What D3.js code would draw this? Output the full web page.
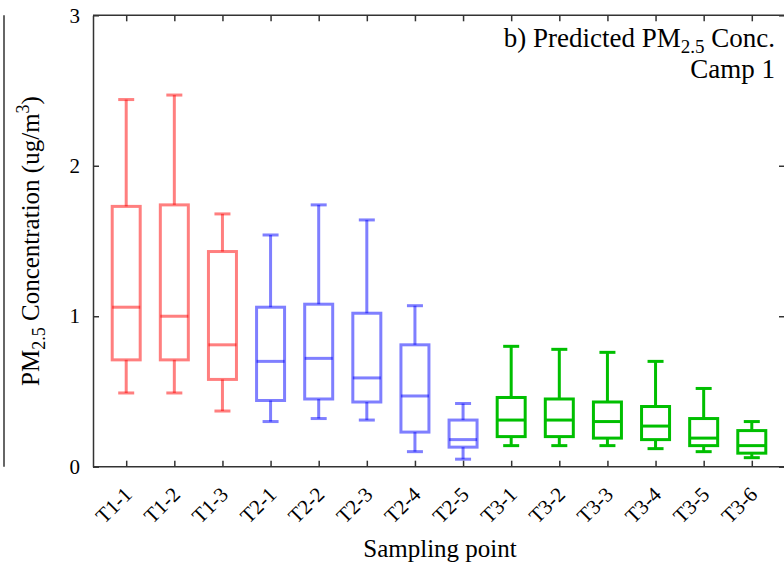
<!DOCTYPE html>
<html>
<head>
<meta charset="utf-8">
<script src="https://cdn.jsdelivr.net/npm/d3@7"></script>
<style>
  html, body { margin: 0; padding: 0; background: #fff; }
  svg { display: block; }
</style>
</head>
<body>
<svg id="chart" width="784" height="568"></svg>
<script>
// Sampling points and their box-plot statistics (ug/m3)
const categories = ["T1-1","T1-2","T1-3","T2-1","T2-2","T2-3","T2-4","T2-5",
                    "T3-1","T3-2","T3-3","T3-4","T3-5","T3-6"];
const groups     = ["T1","T1","T1","T2","T2","T2","T2","T2",
                    "T3","T3","T3","T3","T3","T3"];
const whiskerLow = [0.49, 0.49, 0.37, 0.30, 0.32, 0.31, 0.10, 0.05,
                    0.14, 0.14, 0.14, 0.12, 0.10, 0.06];
const q1         = [0.71, 0.71, 0.58, 0.44, 0.45, 0.43, 0.23, 0.13,
                    0.20, 0.20, 0.19, 0.18, 0.14, 0.09];
const median     = [1.06, 1.00, 0.81, 0.70, 0.72, 0.59, 0.47, 0.18,
                    0.31, 0.31, 0.30, 0.27, 0.19, 0.14];
const q3         = [1.73, 1.74, 1.43, 1.06, 1.08, 1.02, 0.81, 0.31,
                    0.46, 0.45, 0.43, 0.40, 0.32, 0.24];
const whiskerHigh= [2.44, 2.47, 1.68, 1.54, 1.74, 1.64, 1.07, 0.42,
                    0.80, 0.78, 0.76, 0.70, 0.52, 0.30];
const yTicks = [0, 1, 2, 3];

const groupColor = { T1: "#ff0000", T2: "#0000ff", T3: "#00bf00" };
const groupOpacity = { T1: 0.5, T2: 0.5, T3: 1 };

const FONT = "Liberation Serif";

const svg = d3.select("#chart");
svg.append("rect").attr("width", 784).attr("height", 568).attr("fill", "#fff");

const plotLeft = 93, plotRight = 785, plotTop = 15.3, plotBottom = 466.7;

const x = d3.scalePoint().domain(categories).range([plotLeft, plotRight]).padding(0.69);
const y = d3.scaleLinear().domain([0, 3]).range([plotBottom, plotTop]);

const boxW = 28, capW = 16, lw = 3;

// Edge of the neighbouring panel
svg.append("line")
  .attr("x1", 4).attr("x2", 4).attr("y1", plotTop).attr("y2", plotBottom)
  .attr("stroke", "#333").attr("stroke-width", 1.5);

// Boxes
const rows = categories.map((c, i) => ({
  c, g: groups[i], lo: whiskerLow[i], q1: q1[i], med: median[i], q3: q3[i], hi: whiskerHigh[i]
}));

const boxes = svg.append("g").selectAll("g").data(rows).join("g")
  .attr("stroke", d => groupColor[d.g])
  .attr("stroke-opacity", d => groupOpacity[d.g])
  .attr("stroke-width", lw)
  .attr("fill", "none");

function seg(sel, f) {
  sel.append("line")
    .attr("x1", d => f(d)[0]).attr("y1", d => f(d)[1])
    .attr("x2", d => f(d)[2]).attr("y2", d => f(d)[3]);
}
// whiskers
seg(boxes, d => [x(d.c), y(d.q3), x(d.c), y(d.hi)]);
seg(boxes, d => [x(d.c), y(d.q1), x(d.c), y(d.lo)]);
// caps
seg(boxes, d => [x(d.c) - capW / 2, y(d.hi), x(d.c) + capW / 2, y(d.hi)]);
seg(boxes, d => [x(d.c) - capW / 2, y(d.lo), x(d.c) + capW / 2, y(d.lo)]);
// box outline
boxes.append("rect")
  .attr("x", d => x(d.c) - boxW / 2)
  .attr("width", boxW)
  .attr("y", d => y(d.q3))
  .attr("height", d => y(d.q1) - y(d.q3));
// median
seg(boxes, d => [x(d.c) - boxW / 2, y(d.med), x(d.c) + boxW / 2, y(d.med)]);

// Axes with inward ticks on all four sides
const axisColor = "#333";
const gAxes = svg.append("g");

const bottomAxis = d3.axisBottom(x).tickSizeInner(-6).tickSizeOuter(0).tickFormat("");
const topAxis = d3.axisTop(x).tickSizeInner(-6).tickSizeOuter(0).tickFormat("");
const leftAxis = d3.axisLeft(y).tickValues(yTicks).tickSizeInner(-6).tickSizeOuter(0).tickPadding(13).tickFormat(d3.format("d"));
const rightAxis = d3.axisRight(y).tickValues(yTicks).tickSizeInner(-6).tickSizeOuter(0).tickFormat("");

const gb = gAxes.append("g").attr("transform", `translate(0,${plotBottom})`).call(bottomAxis);
const gt = gAxes.append("g").attr("transform", `translate(0,${plotTop})`).call(topAxis);
const gl = gAxes.append("g").attr("transform", `translate(${plotLeft},0)`).call(leftAxis);
const gr = gAxes.append("g").attr("transform", `translate(${plotRight},0)`).call(rightAxis);

[gb, gt, gl, gr].forEach(g => {
  g.select(".domain").attr("stroke", axisColor).attr("stroke-width", 1.5);
  g.selectAll(".tick line").attr("stroke", axisColor).attr("stroke-width", 1.5);
});
gb.select(".domain").attr("d", `M${plotLeft},0H${plotRight}`);
gt.select(".domain").attr("d", `M${plotLeft},0H${plotRight}`);

gl.selectAll(".tick text")
  .style("font-family", FONT).style("font-size", "21px").attr("fill", "#000");

// Rotated category labels
svg.append("g").selectAll("text").data(categories).join("text")
  .attr("transform", d => `translate(${x(d) + 7},${plotBottom + 29}) rotate(-45)`)
  .attr("text-anchor", "end")
  .style("font-family", FONT)
  .style("font-size", "21px")
  .text(d => d);

// Axis titles
svg.append("text")
  .attr("x", (plotLeft + plotRight) / 2 + 1).attr("y", 557)
  .attr("text-anchor", "middle")
  .style("font-family", FONT)
  .style("font-size", "25px")
  .text("Sampling point");

const yTitle = svg.append("text")
  .attr("transform", `translate(39,${(plotTop + plotBottom) / 2}) rotate(-90)`)
  .attr("text-anchor", "middle")
  .style("font-family", FONT)
  .style("font-size", "25px");
yTitle.append("tspan").text("PM");
yTitle.append("tspan").style("font-size", "18px").attr("dy", 6).text("2.5");
yTitle.append("tspan").attr("dy", -6).text(" Concentration (ug/m");
yTitle.append("tspan").style("font-size", "18px").attr("dy", -10).text("3");
yTitle.append("tspan").attr("dy", 10).text(")");

// Panel title
const title = svg.append("text")
  .attr("x", 775).attr("y", 47)
  .attr("text-anchor", "end")
  .style("font-family", FONT)
  .style("font-size", "27px");
title.append("tspan").text("b) Predicted PM");
title.append("tspan").style("font-size", "19px").attr("dy", 6).text("2.5");
title.append("tspan").attr("dy", -6).text(" Conc.");

svg.append("text")
  .attr("x", 775).attr("y", 78)
  .attr("text-anchor", "end")
  .style("font-family", FONT)
  .style("font-size", "27px")
  .text("Camp 1");
</script>
</body>
</html>
